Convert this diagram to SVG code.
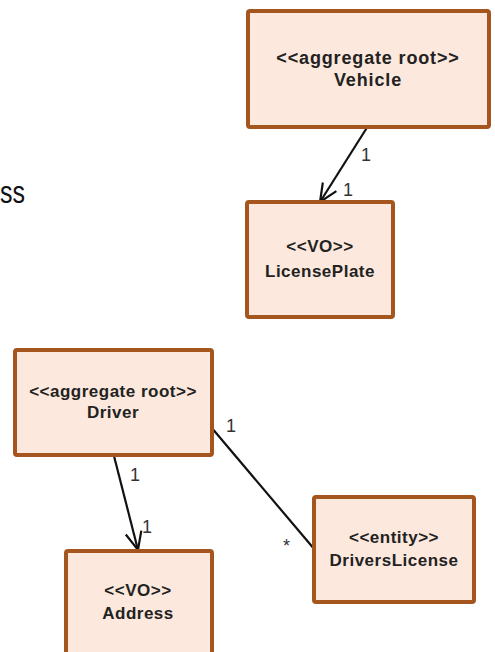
<svg xmlns="http://www.w3.org/2000/svg" width="495" height="652" viewBox="0 0 495 652">
  <style>
    .box { fill: #fce8dc; stroke: #a4561e; stroke-width: 4; }
    .name { font-family: "Liberation Sans", Arial, sans-serif; font-weight: bold; fill: #222; text-anchor: middle; }
    .big { font-size: 18px; letter-spacing: 0.85px; }
    .mid { font-size: 17px; letter-spacing: 0.5px; }
    .edge { stroke: #111; stroke-width: 2.2; fill: none; }
    .mult { font-family: "Liberation Sans", Arial, sans-serif; font-size: 18px; fill: #333; }
    .slide { font-family: "Liberation Sans", Arial, sans-serif; font-size: 31px; fill: #111; }
  </style>
  <defs>
    <marker id="open" viewBox="0 0 20 20" refX="19" refY="10" markerWidth="20" markerHeight="20" markerUnits="userSpaceOnUse" orient="auto">
      <path d="M1,2 L19,10 L1,18" fill="none" stroke="#111" stroke-width="2.2"/>
    </marker>
  </defs>

  <rect width="495" height="652" fill="#ffffff"/>
  <text class="slide" x="0" y="203" textLength="25" lengthAdjust="spacingAndGlyphs">ss</text>

  <g id="connectors">
    <line class="edge" x1="368" y1="126" x2="320" y2="202" marker-end="url(#open)"/>
    <text class="mult" x="361" y="161">1</text>
    <text class="mult" x="343" y="196">1</text>

    <line class="edge" x1="114" y1="456" x2="138" y2="550" marker-end="url(#open)"/>
    <text class="mult" x="130" y="481">1</text>
    <text class="mult" x="142" y="533">1</text>

    <line class="edge" x1="211" y1="427" x2="315" y2="550"/>
    <text class="mult" x="226" y="432">1</text>
    <text class="mult" x="283" y="552">*</text>
  </g>

  <g id="vehicle">
    <rect class="box" x="248" y="11" width="241" height="116" rx="2"/>
    <text class="name big" x="368" y="64">&lt;&lt;aggregate root&gt;&gt;</text>
    <text class="name big" x="368" y="86">Vehicle</text>
  </g>

  <g id="licenseplate">
    <rect class="box" x="247" y="202" width="146" height="115" rx="2"/>
    <text class="name mid" x="320" y="252">&lt;&lt;VO&gt;&gt;</text>
    <text class="name mid" x="320" y="277">LicensePlate</text>
  </g>

  <g id="driver">
    <rect class="box" x="15" y="350" width="197" height="105" rx="2"/>
    <text class="name mid" x="113" y="397">&lt;&lt;aggregate root&gt;&gt;</text>
    <text class="name mid" x="113" y="418">Driver</text>
  </g>

  <g id="driverslicense">
    <rect class="box" x="314" y="497" width="160" height="105" rx="2"/>
    <text class="name mid" x="394" y="543">&lt;&lt;entity&gt;&gt;</text>
    <text class="name mid" x="394" y="566">DriversLicense</text>
  </g>

  <g id="address">
    <rect class="box" x="66" y="551" width="146" height="115" rx="2"/>
    <text class="name mid" x="138" y="596">&lt;&lt;VO&gt;&gt;</text>
    <text class="name mid" x="138" y="619">Address</text>
  </g>
</svg>
